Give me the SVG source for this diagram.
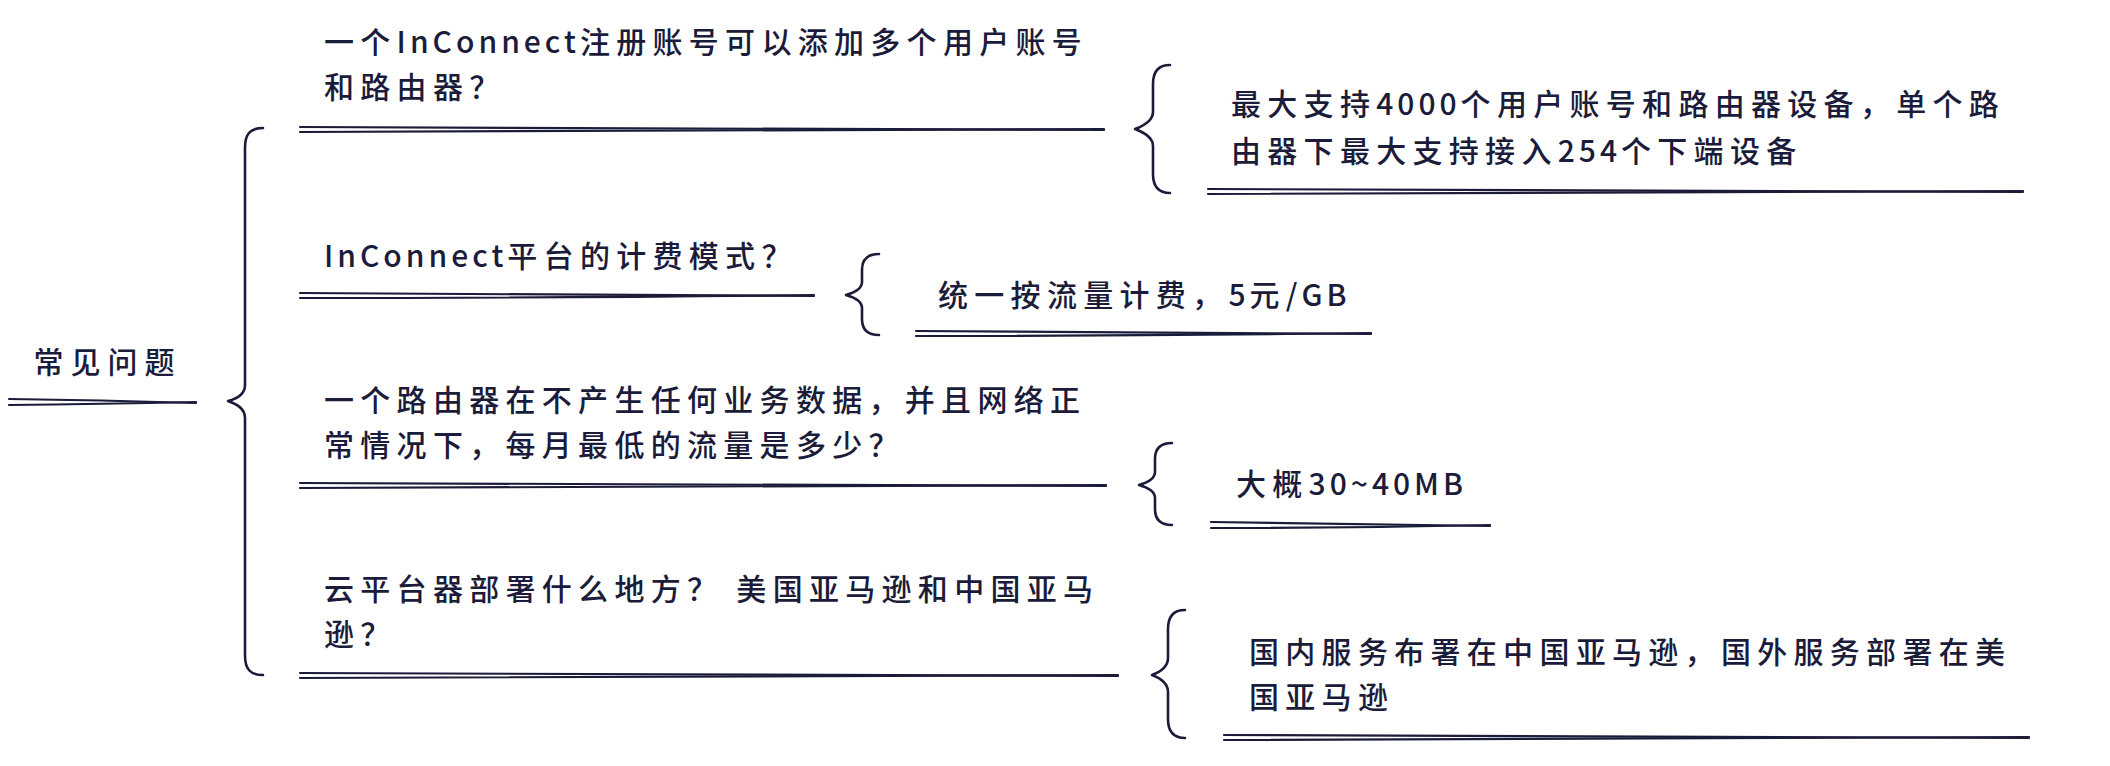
<svg xmlns="http://www.w3.org/2000/svg" width="2110" height="766" viewBox="0 0 2110 766">
<style>
text{font-family:"Noto Sans CJK SC","Noto Sans",sans-serif;font-size:30px;font-weight:500;fill:#1b1b3a;letter-spacing:6.3px}
.lat{letter-spacing:4px}
.ul{fill:none;stroke:#1b1b3a;stroke-width:2.2;stroke-linecap:round}
.br{fill:none;stroke:#1b1b3a;stroke-width:2.6;stroke-linecap:round;stroke-linejoin:round}
</style>
<rect width="2110" height="766" fill="#ffffff"/>
<g id="connectors">
<path class="br" d="M263 128 C250 128 245 134 245 148 L245 385 C245 395 236 399 228 401 C236 404 245 408 245 418 L245 655 C245 669 250 675 263 675"/>
<path class="br" d="M1170 65 C1158 65 1153 72 1153 84 L1153 112 C1153 121 1143 126 1135 129 C1143 132 1153 137 1153 146 L1153 174 C1153 186 1158 193 1170 193"/>
<path class="br" d="M879 254 C867 254 862 260 862 270 L862 282 C862 289 853 293 846 295 C853 297 862 301 862 308 L862 319 C862 329 867 335 879 335"/>
<path class="br" d="M1172 443 C1160 443 1155 449 1155 459 L1155 472 C1155 479 1146 483 1139 485 C1146 487 1155 491 1155 498 L1155 509 C1155 519 1160 525 1172 525"/>
<path class="br" d="M1185 610 C1173 610 1168 617 1168 629 L1168 658 C1168 667 1160 672 1152 675 C1160 678 1168 683 1168 692 L1168 719 C1168 731 1173 738 1185 738"/>
</g>
<g id="node-root">
<text x="33.5" y="373" style="letter-spacing:7px">常见问题</text>
<path class="ul" d="M9 399 Q100 400 196 403"/>
<path class="ul" d="M9 405 Q100 404 196 402"/>
</g>
<g id="node-q1">
<text x="324" y="53">一个<tspan class="lat">InConnect</tspan>注册账号可以添加多个用户账号</text>
<text x="324" y="98">和路由器？</text>
<path class="ul" d="M300 127 Q700 128 1104 130"/>
<path class="ul" d="M300 132 Q700 132 1104 129"/>
</g>
<g id="node-a1">
<text x="1231" y="115">最大支持<tspan class="lat">4000</tspan>个用户账号和路由器设备，单个路</text>
<text x="1231" y="162">由器下最大支持接入<tspan class="lat">254</tspan>个下端设备</text>
<path class="ul" d="M1208 189 Q1600 190 2023 192"/>
<path class="ul" d="M1208 194 Q1600 194 2023 191"/>
</g>
<g id="node-q2">
<text x="324" y="267"><tspan class="lat">InConnect</tspan>平台的计费模式？</text>
<path class="ul" d="M300 293 Q550 294 814 296"/>
<path class="ul" d="M300 298 Q550 298 814 295"/>
</g>
<g id="node-a2">
<text x="938" y="306">统一按流量计费，<tspan class="lat">5</tspan>元<tspan class="lat">/GB</tspan></text>
<path class="ul" d="M916 331 Q1140 332 1371 334"/>
<path class="ul" d="M916 336 Q1140 336 1371 333"/>
</g>
<g id="node-q3">
<text x="324" y="411">一个路由器在不产生任何业务数据，并且网络正</text>
<text x="324" y="456">常情况下，每月最低的流量是多少？</text>
<path class="ul" d="M300 483 Q700 484 1106 486"/>
<path class="ul" d="M300 488 Q700 488 1106 485"/>
</g>
<g id="node-a3">
<text x="1236" y="495">大概<tspan class="lat">30~40MB</tspan></text>
<path class="ul" d="M1211 522 Q1350 524 1490 526"/>
<path class="ul" d="M1211 528 Q1350 528 1490 525"/>
</g>
<g id="node-q4">
<text x="324" y="600">云平台器部署什么地方？ 美国亚马逊和中国亚马</text>
<text x="324" y="645">逊？</text>
<path class="ul" d="M300 673 Q700 674 1118 676"/>
<path class="ul" d="M300 678 Q700 678 1118 675"/>
</g>
<g id="node-a4">
<text x="1249" y="663">国内服务布署在中国亚马逊，国外服务部署在美</text>
<text x="1249" y="708">国亚马逊</text>
<path class="ul" d="M1224 735 Q1620 736 2029 738"/>
<path class="ul" d="M1224 740 Q1620 740 2029 737"/>
</g>
</svg>
